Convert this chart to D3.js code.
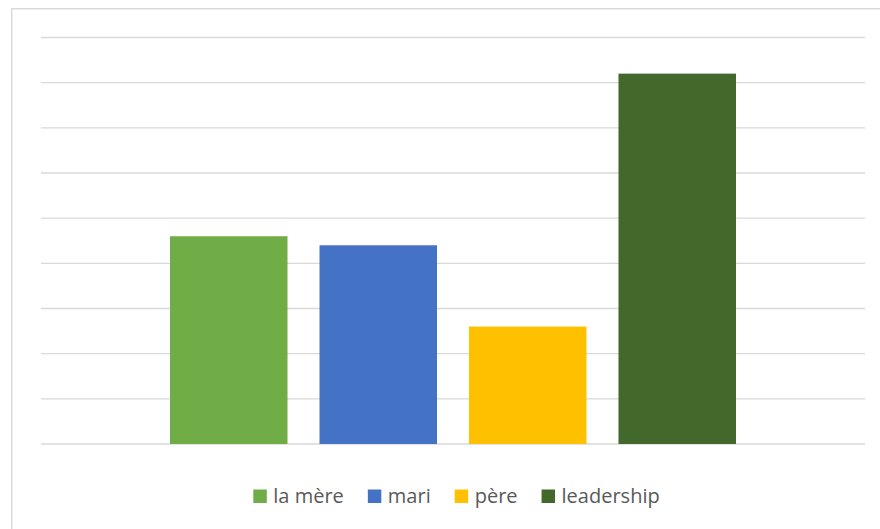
<!DOCTYPE html>
<html>
<head>
<meta charset="utf-8">
<script src="https://cdn.jsdelivr.net/npm/d3@7"></script>
<style>
  html, body { margin: 0; padding: 0; background: #ffffff; }
  svg { display: block; }
</style>
</head>
<body>
<script>
// Series shown in the single category group
const seriesNames = ["la mère", "mari", "père", "leadership"];
const seriesValues = [4.6, 4.4, 2.6, 8.2];
const seriesColors = ["#70AD47", "#4472C4", "#FFC000", "#43682B"];
// Value axis gridlines (labels hidden)
const gridTicks = [0, 1, 2, 3, 4, 5, 6, 7, 8, 9];

const W = 880, H = 529;
const plot = { left: 41, right: 865, top: 37.5, bottom: 444 };

const svg = d3.select("body").append("svg")
  .attr("width", W).attr("height", H);

svg.append("rect").attr("width", W).attr("height", H).attr("fill", "#ffffff");

// Chart area frame (extends past the right and bottom edges)
svg.append("path")
  .attr("d", `M11.7,${H + 2} L11.7,8.7 L${W + 2},8.7`)
  .attr("fill", "none")
  .attr("stroke", "#d9d9d9")
  .attr("stroke-width", 1.4);

const y = d3.scaleLinear().domain([0, 9]).range([plot.bottom, plot.top]);
const x = d3.scaleBand()
  .domain(seriesNames)
  .range([plot.left, plot.right])
  .paddingInner(0.214)
  .paddingOuter(0.863);

// Horizontal gridlines
svg.append("g").selectAll("line")
  .data(gridTicks)
  .join("line")
  .attr("x1", plot.left).attr("x2", plot.right)
  .attr("y1", d => y(d)).attr("y2", d => y(d))
  .attr("stroke", "#d9d9d9")
  .attr("stroke-width", d => d === 0 ? 1.6 : 1.3);

// Bars
svg.append("g").selectAll("rect")
  .data(seriesValues)
  .join("rect")
  .attr("x", (d, i) => x(seriesNames[i]))
  .attr("width", x.bandwidth())
  .attr("y", d => y(d))
  .attr("height", d => y(0) - y(d))
  .attr("fill", (d, i) => seriesColors[i]);

// Legend
const legend = svg.append("g").attr("font-family", "'Open Sans', sans-serif")
  .attr("font-size", 20).attr("fill", "#595959");
const sq = 13.5, txtGap = 6.5, itemGap = 24;
const items = seriesNames.map((name, i) => {
  const g = legend.append("g");
  g.append("rect").attr("width", sq).attr("height", sq).attr("y", 489.5)
    .attr("fill", seriesColors[i]);
  const t = g.append("text").attr("x", sq + txtGap).attr("y", 503).text(name);
  return { g, w: sq + txtGap + t.node().getComputedTextLength() };
});
const total = d3.sum(items, d => d.w) + itemGap * (items.length - 1);
let cx = 456.5 - total / 2;
items.forEach(it => {
  it.g.attr("transform", `translate(${cx},0)`);
  cx += it.w + itemGap;
});
</script>
</body>
</html>
